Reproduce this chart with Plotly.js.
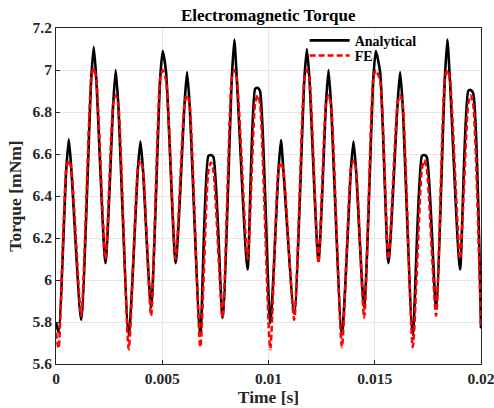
<!DOCTYPE html>
<html>
<head>
<meta charset="utf-8">
<script src="https://cdn.plot.ly/plotly-3.0.1.min.js"></script>
<style>
html,body{margin:0;padding:0;background:#fff;}
#chart{width:494px;height:408px;}
</style>
</head>
<body>
<div id="chart"></div>
<script>
// Time samples [s] and torque [mNm]
const time = [0, 0.00012,
  0.000484, 0.000602, 0.00072, 0.001185,
  0.001659, 0.001777, 0.001895, 0.002327,
  0.002693, 0.002811, 0.002929, 0.003422,
  0.003854, 0.003972, 0.00409, 0.004475,
  0.004902, 0.00502, 0.00518, 0.005631,
  0.006049, 0.006167, 0.006285, 0.006792,
  0.00717, 0.007295, 0.00741, 0.00784,
  0.008272, 0.00839, 0.008508, 0.009015,
  0.00937, 0.009485, 0.0096, 0.010082,
  0.010467, 0.010585, 0.010703, 0.011211,
  0.011689, 0.011807, 0.011925, 0.012353,
  0.012705, 0.012823, 0.012941, 0.013453,
  0.01388, 0.013998, 0.014116, 0.014501,
  0.014932, 0.01505, 0.015253, 0.015643,
  0.016075, 0.016193, 0.016311, 0.01679,
  0.01722, 0.017335, 0.01745, 0.017885,
  0.018298, 0.018416, 0.018534, 0.019013,
  0.0194, 0.019516, 0.01963, 0.02];

const torqueFE = [5.75, 5.675,
  6.53, 6.57, 6.53, 5.83,
  6.96, 7.01, 6.96, 6.10,
  6.84, 6.88, 6.84, 5.67,
  6.53, 6.57, 6.53, 5.83,
  6.96, 7.00, 6.95, 6.10,
  6.84, 6.88, 6.84, 5.68,
  6.52, 6.56, 6.52, 5.82,
  6.96, 7.00, 6.96, 6.10,
  6.84, 6.88, 6.84, 5.67,
  6.52, 6.56, 6.52, 5.81,
  6.96, 7.00, 6.96, 6.08,
  6.84, 6.88, 6.84, 5.68,
  6.53, 6.57, 6.53, 5.82,
  6.96, 7.00, 6.95, 6.10,
  6.84, 6.88, 6.84, 5.68,
  6.53, 6.57, 6.53, 5.83,
  6.96, 7.00, 6.96, 6.10,
  6.84, 6.88, 6.84, 5.77];

const torqueAnalytical = [5.80, 5.75,
  6.53, 6.67, 6.53, 5.81,
  6.96, 7.11, 6.96, 6.08,
  6.84, 7.00, 6.84, 5.74,
  6.53, 6.66, 6.53, 5.87,
  6.96, 7.09, 6.99, 6.08,
  6.84, 6.99, 6.84, 5.74,
  6.59, 6.595, 6.585, 5.82,
  6.96, 7.145, 6.96, 6.05,
  6.91, 6.915, 6.90, 5.795,
  6.52, 6.667, 6.52, 5.84,
  6.96, 7.10, 6.96, 6.09,
  6.84, 7.00, 6.84, 5.74,
  6.53, 6.66, 6.53, 5.87,
  6.96, 7.09, 6.99, 6.08,
  6.84, 6.99, 6.84, 5.74,
  6.59, 6.595, 6.585, 5.87,
  6.96, 7.145, 6.96, 6.05,
  6.90, 6.905, 6.89, 5.77];

const xTicks = [0, 0.005, 0.01, 0.015, 0.02];
const xTickLabels = ['0', '0.005', '0.01', '0.015', '0.02'];
const yTicks = [5.6, 5.8, 6, 6.2, 6.4, 6.6, 6.8, 7, 7.2];
const yTickLabels = ['5.6', '5.8', '6', '6.2', '6.4', '6.6', '6.8', '7', '7.2'];

const font = 'Liberation Serif, Times New Roman, serif';

const traces = [
  {x: time, y: torqueAnalytical, name: '<b>Analytical</b>', mode: 'lines', legend: 'legend',
   line: {color: '#000000', width: 2.6, shape: 'spline', smoothing: 0.6}},
  {x: time, y: torqueFE, name: '<b>FE</b>', mode: 'lines', legend: 'legend2',
   line: {color: '#ff0000', width: 2.5, dash: '6px,3px', shape: 'spline', smoothing: 0.6}}
];

const legendStyle = {xanchor: 'left', yanchor: 'middle', bgcolor: 'rgba(0,0,0,0)',
  font: {family: font, size: 14, color: '#000'}, itemwidth: 40};

const layout = {
  width: 494, height: 408,
  margin: {l: 55.5, r: 13, t: 28, b: 44},
  paper_bgcolor: '#ffffff', plot_bgcolor: '#ffffff',
  font: {family: font, color: '#262626'},
  title: {text: '<b>Electromagnetic Torque</b>', font: {family: font, size: 17, color: '#000'},
          x: 0.543, xanchor: 'center', y: 0.962, yanchor: 'middle'},
  showlegend: true,
  legend: Object.assign({x: 0.585, y: 0.962}, legendStyle),
  legend2: Object.assign({x: 0.585, y: 0.917}, legendStyle),
  xaxis: {range: [0, 0.02], tickvals: xTicks, ticktext: xTickLabels, ticklabeloverflow: 'allow',
          showgrid: true, gridcolor: '#e6e6e6', gridwidth: 1, zeroline: false,
          showline: true, linecolor: '#262626', linewidth: 1, mirror: true,
          ticks: 'inside', ticklen: 4, tickcolor: '#262626',
          tickfont: {family: font, size: 15.5, color: '#262626', weight: 'bold'},
          title: {text: '<b>Time [s]</b>', font: {family: font, size: 17.5, color: '#262626'}, standoff: 4}},
  yaxis: {range: [5.6, 7.2], tickvals: yTicks, ticktext: yTickLabels,
          showgrid: true, gridcolor: '#e6e6e6', gridwidth: 1, zeroline: false,
          showline: true, linecolor: '#262626', linewidth: 1, mirror: true,
          ticks: 'inside', ticklen: 4, tickcolor: '#262626',
          tickfont: {family: font, size: 15.5, color: '#262626', weight: 'bold'},
          title: {text: '<b>Torque [mNm]</b>', font: {family: font, size: 17.5, color: '#262626'}, standoff: 6}}
};

Plotly.newPlot('chart', traces, layout, {staticPlot: true, displayModeBar: false});
</script>
</body>
</html>
